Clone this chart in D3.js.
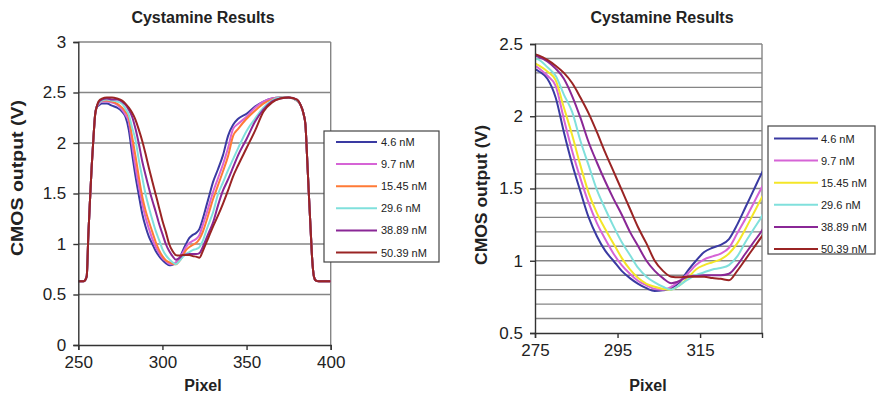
<!DOCTYPE html>
<html>
<head>
<meta charset="utf-8">
<script src="https://cdn.jsdelivr.net/npm/d3@7"></script>
<style>
  body { margin: 0; background: #fff; }
  svg { display: block; font-family: "Liberation Sans", Arial, sans-serif; }
</style>
</head>
<body>
<div id="content"></div>
<script>
// Data-set: CMOS output (V) per pixel, one array per concentration.
var pixel = [250, 253, 254, 255, 256, 257, 258, 259, 260, 261, 262, 264, 267, 270, 273,
  276, 278, 280, 282, 284, 286, 288, 290, 292, 294, 296, 298, 300, 302, 304, 306, 308,
  310, 312, 314, 316, 318, 320, 322, 324, 326, 328, 330, 333, 336, 339, 342, 345, 350,
  355, 360, 365, 370, 375, 380, 382, 384, 385, 386, 387, 388, 389, 390, 391, 393, 400];

var concentrations = ['4.6 nM', '9.7 nM', '15.45 nM', '29.6 nM', '38.89 nM', '50.39 nM'];

var v4_6 = [0.63, 0.63, 0.64, 0.68, 1.10, 1.45, 1.78, 2.05, 2.28, 2.36, 2.37, 2.39, 2.39, 2.37, 2.35,
  2.31, 2.26, 2.13, 1.89, 1.67, 1.48, 1.30, 1.17, 1.07, 1.00, 0.93, 0.88, 0.84, 0.81, 0.79, 0.795, 0.81,
  0.85, 0.93, 1.00, 1.06, 1.09, 1.11, 1.15, 1.25, 1.37, 1.49, 1.61, 1.74, 1.88, 2.07, 2.18, 2.24, 2.29,
  2.36, 2.41, 2.44, 2.45, 2.45, 2.42, 2.38, 2.28, 2.18, 1.85, 1.50, 1.17, 0.85, 0.68, 0.64, 0.63, 0.63];
var v9_7 = [0.63, 0.63, 0.64, 0.68, 1.10, 1.45, 1.78, 2.05, 2.28, 2.36, 2.38, 2.41, 2.41, 2.40, 2.38,
  2.33, 2.28, 2.21, 1.98, 1.76, 1.57, 1.40, 1.26, 1.15, 1.05, 0.97, 0.91, 0.86, 0.83, 0.805, 0.80, 0.82,
  0.86, 0.91, 0.97, 1.01, 1.03, 1.05, 1.09, 1.19, 1.29, 1.40, 1.51, 1.65, 1.79, 1.95, 2.14, 2.19, 2.26,
  2.35, 2.41, 2.44, 2.45, 2.45, 2.42, 2.38, 2.28, 2.18, 1.85, 1.50, 1.17, 0.85, 0.68, 0.64, 0.63, 0.63];
var v15_45 = [0.63, 0.63, 0.64, 0.68, 1.10, 1.45, 1.78, 2.05, 2.28, 2.36, 2.39, 2.42, 2.42, 2.41, 2.39,
  2.35, 2.31, 2.25, 2.06, 1.87, 1.66, 1.47, 1.33, 1.22, 1.12, 1.02, 0.94, 0.88, 0.84, 0.82, 0.805, 0.80,
  0.83, 0.88, 0.94, 0.97, 0.99, 1.01, 1.05, 1.12, 1.22, 1.33, 1.44, 1.58, 1.72, 1.87, 2.07, 2.14, 2.24,
  2.32, 2.39, 2.43, 2.45, 2.45, 2.42, 2.38, 2.28, 2.18, 1.85, 1.50, 1.17, 0.85, 0.68, 0.64, 0.63, 0.63];
var v29_6 = [0.63, 0.63, 0.64, 0.68, 1.10, 1.45, 1.78, 2.05, 2.28, 2.36, 2.39, 2.42, 2.43, 2.42, 2.41,
  2.39, 2.34, 2.28, 2.15, 2.03, 1.83, 1.66, 1.49, 1.36, 1.24, 1.13, 1.04, 0.95, 0.89, 0.85, 0.82, 0.80,
  0.83, 0.87, 0.90, 0.92, 0.94, 0.95, 0.97, 1.03, 1.13, 1.22, 1.31, 1.49, 1.61, 1.73, 1.84, 1.95, 2.12,
  2.24, 2.35, 2.42, 2.45, 2.45, 2.42, 2.38, 2.28, 2.18, 1.85, 1.50, 1.17, 0.85, 0.68, 0.64, 0.63, 0.63];
var v38_89 = [0.63, 0.63, 0.64, 0.68, 1.10, 1.45, 1.78, 2.05, 2.28, 2.36, 2.40, 2.43, 2.44, 2.43, 2.43,
  2.41, 2.38, 2.33, 2.26, 2.14, 1.99, 1.82, 1.68, 1.55, 1.43, 1.32, 1.20, 1.10, 1.00, 0.93, 0.88, 0.845,
  0.86, 0.89, 0.895, 0.90, 0.90, 0.90, 0.91, 0.97, 1.05, 1.13, 1.21, 1.38, 1.53, 1.64, 1.76, 1.88, 2.04,
  2.21, 2.33, 2.41, 2.44, 2.45, 2.43, 2.38, 2.28, 2.18, 1.85, 1.50, 1.17, 0.85, 0.68, 0.64, 0.63, 0.63];
var v50_39 = [0.63, 0.63, 0.64, 0.68, 1.10, 1.45, 1.78, 2.05, 2.28, 2.36, 2.41, 2.44, 2.45, 2.45, 2.44,
  2.42, 2.39, 2.35, 2.30, 2.23, 2.13, 2.02, 1.89, 1.75, 1.62, 1.49, 1.36, 1.23, 1.12, 1.00, 0.93, 0.89,
  0.885, 0.89, 0.89, 0.89, 0.88, 0.875, 0.865, 0.93, 1.01, 1.09, 1.17, 1.28, 1.40, 1.53, 1.67, 1.78, 1.95,
  2.12, 2.31, 2.40, 2.44, 2.45, 2.43, 2.38, 2.28, 2.18, 1.85, 1.50, 1.17, 0.85, 0.68, 0.64, 0.63, 0.63];

var seriesValues = [v4_6, v9_7, v15_45, v29_6, v38_89, v50_39];

// Tick labels for the two panels.
var leftXTicks = [250, 300, 350, 400];
var leftYTicks = [0, 0.5, 1, 1.5, 2, 2.5, 3];
var rightXTicks = [275, 295, 315];
var rightYTicks = [0.5, 1, 1.5, 2, 2.5];

// Line colours (the right panel uses yellow for 15.45 nM).
var leftColors = ['#3a3aa2', '#d664d6', '#ff7a36', '#80e0dc', '#8a2796', '#9a2424'];
var rightColors = ['#3a3aa2', '#d664d6', '#f4e628', '#80e0dc', '#8a2796', '#9a2424'];

var svg = d3.select('#content')
  .append('svg')
  .attr('width', 876)
  .attr('height', 396);

var font = '"Liberation Sans", Arial, sans-serif';

function drawPanel(cfg) {
  var x = d3.scaleLinear().domain(cfg.xDomain).range([cfg.left, cfg.right]);
  var y = d3.scaleLinear().domain(cfg.yDomain).range([cfg.bottom, cfg.top]);
  var g = svg.append('g');

  // Horizontal grid lines and right border.
  g.append('g').selectAll('line')
    .data(cfg.grid)
    .enter()
    .append('line')
    .attr('x1', cfg.left).attr('x2', cfg.right)
    .attr('y1', function(d) { return y(d); })
    .attr('y2', function(d) { return y(d); })
    .attr('stroke', '#858585')
    .attr('stroke-width', 1.4);
  g.append('line')
    .attr('x1', cfg.right).attr('x2', cfg.right)
    .attr('y1', cfg.top).attr('y2', cfg.bottom)
    .attr('stroke', '#858585')
    .attr('stroke-width', 1.4);

  // Clip the curves to the plot area.
  g.append('clipPath').attr('id', cfg.id)
    .append('rect')
    .attr('x', cfg.left).attr('y', cfg.top - 2)
    .attr('width', cfg.right - cfg.left).attr('height', cfg.bottom - cfg.top + 2);

  var line = d3.line()
    .x(function(d) { return x(d[0]); })
    .y(function(d) { return y(d[1]); })
    .curve(d3.curveMonotoneX);

  g.append('g')
    .attr('clip-path', 'url(#' + cfg.id + ')')
    .selectAll('path')
    .data(seriesValues)
    .enter()
    .append('path')
    .attr('fill', 'none')
    .attr('stroke', function(d, i) { return cfg.colors[i]; })
    .attr('stroke-width', 2)
    .attr('stroke-linejoin', 'round')
    .attr('d', function(vals) {
      return line(pixel.map(function(p, i) { return [p, vals[i]]; }));
    });

  // Axes.
  var yAxis = g.append('g')
    .attr('transform', 'translate(' + cfg.left + ',0)')
    .call(d3.axisLeft(y).tickValues(cfg.yTicks).tickSize(5).tickPadding(cfg.yPad)
      .tickFormat(d3.format('')));
  var xAxis = g.append('g')
    .attr('transform', 'translate(0,' + cfg.bottom + ')')
    .call(d3.axisBottom(x).tickValues(cfg.xTicks).tickSize(5).tickPadding(cfg.xPad)
      .tickFormat(d3.format('')));
  [yAxis, xAxis].forEach(function(a) {
    a.select('.domain').attr('stroke', '#333').attr('stroke-width', 1.4);
    a.selectAll('.tick line').attr('stroke', '#333').attr('stroke-width', 1.4);
    a.selectAll('.tick text')
      .attr('font-family', font)
      .attr('font-size', cfg.tickSize)
      .attr('fill', '#222');
  });

  // Titles.
  g.append('text')
    .attr('x', cfg.titleX).attr('y', 23)
    .attr('text-anchor', 'middle')
    .attr('font-family', font).attr('font-weight', 'bold').attr('font-size', 16)
    .attr('fill', '#222')
    .text('Cystamine Results');
  g.append('text')
    .attr('x', cfg.xTitleX).attr('y', 391)
    .attr('text-anchor', 'middle')
    .attr('font-family', font).attr('font-weight', 'bold').attr('font-size', 16)
    .attr('fill', '#222')
    .text('Pixel');
  g.append('text')
    .attr('transform', 'translate(' + cfg.yTitle[0] + ',' + cfg.yTitle[1] + ') rotate(-90)')
    .attr('text-anchor', 'middle')
    .attr('dominant-baseline', 'central')
    .attr('font-family', font).attr('font-weight', 'bold').attr('font-size', 16)
    .attr('textLength', cfg.yTitle[2]).attr('lengthAdjust', 'spacingAndGlyphs')
    .attr('fill', '#222')
    .text('CMOS output (V)');

  // Legend box.
  var lg = g.append('g');
  lg.append('rect')
    .attr('x', cfg.legend.x).attr('y', cfg.legend.y)
    .attr('width', cfg.legend.w).attr('height', cfg.legend.h)
    .attr('fill', '#fff').attr('stroke', '#444').attr('stroke-width', 1.2);
  var rows = lg.selectAll('g.row')
    .data(concentrations)
    .enter()
    .append('g')
    .attr('class', 'row')
    .attr('transform', function(d, i) {
      return 'translate(' + cfg.legend.x + ',' + (cfg.legend.y + cfg.legend.first + i * cfg.legend.step) + ')';
    });
  rows.append('line')
    .attr('x1', cfg.legend.lx1).attr('x2', cfg.legend.lx2)
    .attr('stroke', function(d, i) { return cfg.colors[i]; })
    .attr('stroke-width', 2);
  rows.append('text')
    .attr('x', cfg.legend.tx).attr('dy', 4)
    .attr('font-family', font).attr('font-size', 11)
    .attr('fill', '#222')
    .text(function(d) { return d; });
}

drawPanel({
  id: 'clipLeft',
  xDomain: [250, 400], yDomain: [0, 3],
  left: 78.3, right: 330.7, top: 42, bottom: 345,
  xTicks: leftXTicks, yTicks: leftYTicks,
  grid: [0.5, 1, 1.5, 2, 2.5, 3],
  colors: leftColors,
  tickSize: 17, yPad: 7, xPad: 6,
  titleX: 203, xTitleX: 203, yTitle: [17.5, 178, 156],
  legend: {x: 324, y: 131, w: 115, h: 131, first: 11, step: 22.1, lx1: 12, lx2: 53, tx: 57}
});

drawPanel({
  id: 'clipRight',
  xDomain: [275, 330], yDomain: [0.5, 2.5],
  left: 535, right: 762, top: 44, bottom: 333,
  xTicks: rightXTicks, yTicks: rightYTicks,
  grid: d3.range(6, 26).map(function(d) { return d / 10; }),
  colors: rightColors,
  tickSize: 17, yPad: 7, xPad: 6,
  titleX: 662, xTitleX: 648, yTitle: [481.5, 195, 140],
  legend: {x: 768, y: 126, w: 107, h: 128, first: 12.5, step: 22.1, lx1: 6, lx2: 50, tx: 53}
});
</script>
</body>
</html>
